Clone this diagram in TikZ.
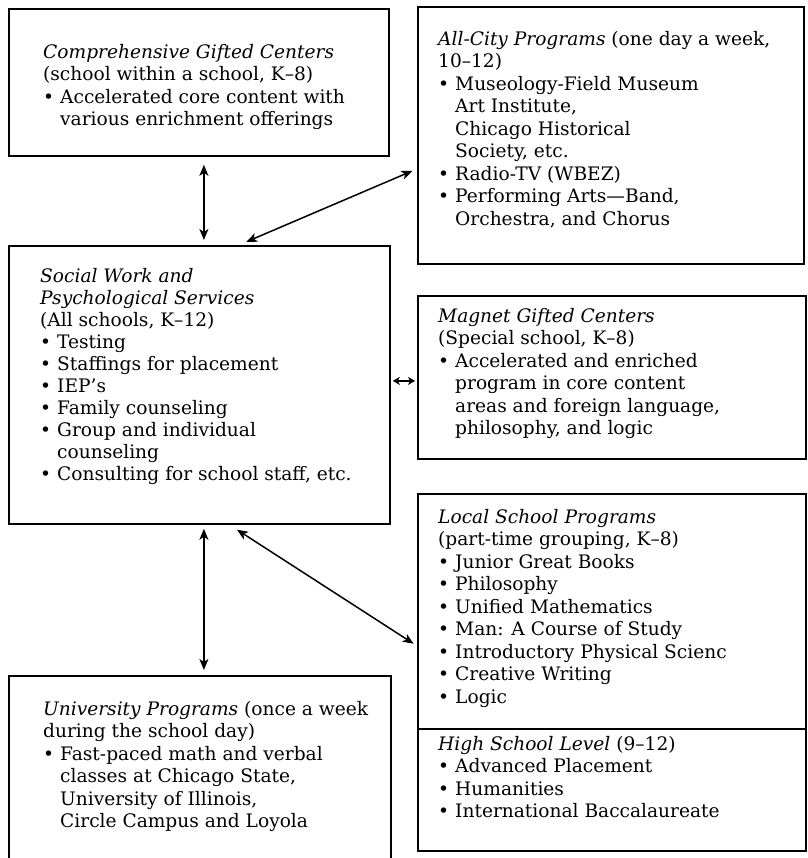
\documentclass[tikz,border=0pt]{standalone}
\usepackage{fontspec}
\setmainfont{DejaVu Serif}
\usetikzlibrary{arrows.meta}
\newcommand\bl{\makebox[17pt][l]{•}}
\newcommand\ct{\hspace*{17pt}}
\newcommand\fst{\rule{0pt}{16pt}}
\begin{document}
\begin{tikzpicture}[x=1pt,y=1pt,
    box/.style={draw, line width=1.8pt, anchor=north west, inner sep=0pt},
    body/.style={anchor=north west, inner sep=0pt, align=left,
      font=\fontsize{18.6}{22.5}\selectfont},
    link/.style={{Stealth[length=11pt,width=9pt,inset=3pt]}-{Stealth[length=11pt,width=9pt,inset=3pt]},
      line width=1.5pt},
    shortlink/.style={{Stealth[length=7pt,width=8pt,inset=2pt]}-{Stealth[length=7pt,width=8pt,inset=2pt]}}]
  \useasboundingbox (0,0) rectangle (807,-858);
  \clip (0,0) rectangle (807,-858);
  \node[box, minimum width=380pt, minimum height=147pt] (comp) at (8,-8) {};
  \node[box, minimum width=386pt, minimum height=257pt] (city) at (417,-6) {};
  \node[box, minimum width=381pt, minimum height=278pt] (social) at (8,-245) {};
  \node[box, minimum width=388pt, minimum height=163pt] (magnet) at (417,-295) {};
  \node[box, minimum width=388pt, minimum height=357pt] (local) at (417,-493) {};
  \node[box, minimum width=382pt, minimum height=191pt] (univ) at (8,-675) {};
  \draw[line width=1.8pt] ([yshift=-56.5pt]local.west) -- ([yshift=-56.5pt]local.east);

  \node[body] (comptext) at (43,-42) {\fst\textit{Comprehensive Gifted Centers}\\
    (school within a school, K–8)\\
    \bl Accelerated core content with\\
    \ct various enrichment offerings};
  \node[body] (citytext) at (438,-29) {\fst\textit{All-City Programs} (one day a week,\\
    10–12)\\
    \bl Museology-Field Museum\\
    \ct Art Institute,\\
    \ct Chicago Historical\\
    \ct Society, etc.\\
    \bl Radio-TV (WBEZ)\\
    \bl Performing Arts—Band,\\
    \ct Orchestra, and Chorus};
  \node[body, font=\fontsize{18.6}{22}\selectfont] (socialtext) at (40,-266) {\fst\textit{Social Work and}\\
    \textit{Psychological Services}\\
    (All schools, K–12)\\
    \bl Testing\\
    \bl Staffings for placement\\
    \bl IEP's\\
    \bl Family counseling\\
    \bl Group and individual\\
    \ct counseling\\
    \bl Consulting for school staff, etc.};
  \node[body] (magnettext) at (438,-306) {\fst\textit{Magnet Gifted Centers}\\
    (Special school, K–8)\\
    \bl Accelerated and enriched\\
    \ct program in core content\\
    \ct areas and foreign language,\\
    \ct philosophy, and logic};
  \node[body] (localtext) at (438,-507) {\fst\textit{Local School Programs}\\
    (part-time grouping, K–8)\\
    \bl Junior Great Books\\
    \bl Philosophy\\
    \bl Unified Mathematics\\
    \bl Man: A Course of Study\\
    \bl Introductory Physical Scienc\\
    \bl Creative Writing\\
    \bl Logic};
  \node[body] (hightext) at (438,-734) {\fst\textit{High School Level} (9–12)\\
    \bl Advanced Placement\\
    \bl Humanities\\
    \bl International Baccalaureate};
  \node[body] (univtext) at (43,-699) {\fst\textit{University Programs} (once a week\\
    during the school day)\\
    \bl Fast-paced math and verbal\\
    \ct classes at Chicago State,\\
    \ct University of Illinois,\\
    \ct Circle Campus and Loyola};

  \begin{scope}[link]
    \draw[shorten <=8pt, shorten >=5pt] ([xshift=5pt]comp.south) to ([xshift=4.5pt]social.north);
    \draw[shorten <=8pt, shorten >=5pt] ([xshift=39.5pt]social.north) to ([yshift=-33.5pt]city.west);
    \draw[shortlink, shorten <=2pt, shorten >=2pt] ([yshift=4pt]social.east) to ([yshift=-3.5pt]magnet.west);
    \draw[shorten <=4pt, shorten >=5pt] ([xshift=4.5pt]social.south) to ([xshift=4pt]univ.north);
    \draw[shorten <=9pt, shorten >=4pt] ([xshift=30pt]social.south) to ([yshift=26.5pt]local.west);
  \end{scope}
\end{tikzpicture}
\end{document}
